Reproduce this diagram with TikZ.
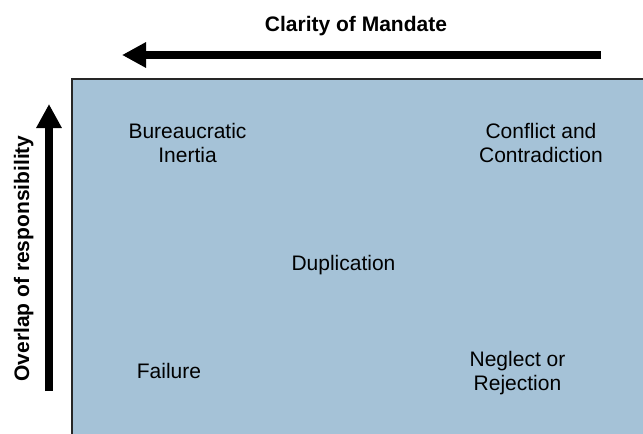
\documentclass[tikz,border=0pt]{standalone}
\usepackage{fontspec}
\setmainfont{Liberation Sans}
\usetikzlibrary{arrows.meta}
\definecolor{boxblue}{RGB}{165,194,215}

\begin{document}
\begin{tikzpicture}[x=1pt, y=-1pt,
    lbl/.style={font=\fontsize{21}{24.5}\selectfont, align=center, inner sep=0pt},
    axislbl/.style={font=\fontsize{21}{24.5}\selectfont\bfseries, inner sep=0pt},
    axisarrow/.style={line width=8pt, -{Triangle[length=24pt, width=24pt]}}]
        \useasboundingbox (0,0) rectangle (643,434);

        % Field
        \draw[fill=boxblue, draw=black!85, line width=2pt] (72,79) rectangle (660,450);

        % Axes
        \coordinate (hstart) at (601,55);
        \coordinate (hend) at (122,55);
        \coordinate (vstart) at (49,391);
        \coordinate (vend) at (49,104);
        \draw[axisarrow] (hstart) -- (hend);
        \draw[axisarrow] (vstart) -- (vend);

        \node[axislbl, anchor=base] (mandate) at (356,31) {Clarity of Mandate};
        \node[axislbl, anchor=base, rotate=90] (overlap) at (29,258.5) {Overlap of responsibility};

        % Outcomes
        \node[lbl] (inertia) at (187.5,143) {Bureaucratic\\Inertia};
        \node[lbl] (conflict) at (541,143) {Conflict and\\Contradiction};
        \node[lbl, anchor=base] (dup) at (343.5,270) {Duplication};
        \node[lbl, anchor=base] (failure) at (169,378) {Failure};
        \node[lbl] (neglect) at (517.5,373) {Neglect or\\Rejection};
      \end{tikzpicture}
\end{document}
